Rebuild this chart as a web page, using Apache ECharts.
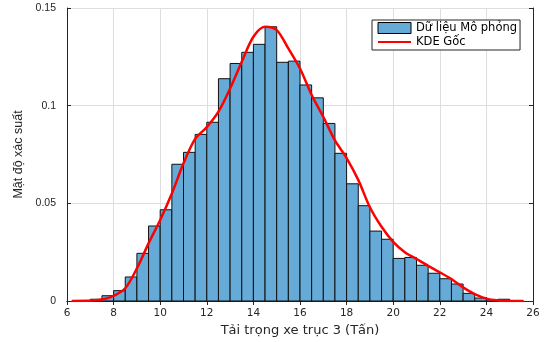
<!DOCTYPE html>
<html><head><meta charset="utf-8">
<script src="https://cdn.jsdelivr.net/npm/echarts@6/dist/echarts.min.js"></script>
<style>html,body{margin:0;padding:0;background:#fff}#c{width:550px;height:342px}</style>
</head><body><div id="c"></div>
<script>
// Histogram bins (lower/upper edges) and probability densities
var binLow  = [7,7.5,8,8.5,9,9.5,10,10.5,11,11.5,12,12.5,13,13.5,14,14.5,15,15.5,16,16.5,17,17.5,18,18.5,19,19.5,20,20.5,21,21.5,22,22.5,23,23.5,24,24.5];
var binHigh = [7.5,8,8.5,9,9.5,10,10.5,11,11.5,12,12.5,13,13.5,14,14.5,15,15.5,16,16.5,17,17.5,18,18.5,19,19.5,20,20.5,21,21.5,22,22.5,23,23.5,24,24.5,25];
var density = [0.0009,0.0027,0.0053,0.0123,0.0244,0.0384,0.0467,0.0700,0.0761,0.0853,0.0915,0.1138,0.1216,0.1273,0.1314,0.1404,0.1222,0.1228,0.1106,0.1040,0.0909,0.0756,0.0600,0.0488,0.0358,0.0316,0.0218,0.0223,0.0183,0.0142,0.0114,0.0087,0.0039,0.0015,0.0007,0.0009];
// KDE curve
var kdeX = [6.2,7.1,7.6,8.0,8.5,9.0,9.5,10.0,10.5,11.0,11.5,12.0,12.5,13.0,13.5,14.0,14.5,15.0,15.5,16.0,16.5,17.0,17.5,18.0,18.5,19.0,19.5,20.0,20.5,21.0,21.5,22.0,22.5,23.0,23.5,24.0,24.5,25.0,25.6];
var kdeY = [0,0.0002,0.001,0.0026,0.0065,0.0167,0.0295,0.0415,0.055,0.0705,0.083,0.089,0.0969,0.1088,0.1225,0.1353,0.1404,0.1387,0.1293,0.119,0.1055,0.0943,0.0822,0.0732,0.062,0.048,0.038,0.0303,0.025,0.0215,0.018,0.0147,0.0112,0.007,0.0035,0.0012,0.0003,0,0];
var xTicks = {min:6, max:26, interval:2};
var yTicks = {min:0, max:0.15, interval:0.05};
var seriesNames = ['Dữ liệu Mô phỏng','KDE Gốc'];
var xTitle = 'Tải trọng xe trục 3 (Tấn)';
var yTitle = 'Mật độ xác suất';

var histData = binLow.map(function(l,i){return [l, binHigh[i], density[i]];});
var kdeData = kdeX.map(function(x,i){return [x, kdeY[i]];});
var txt = '#262626';
var fontL = 'Liberation Sans, Arial, sans-serif';
var fontD = 'DejaVu Sans, sans-serif';
var chart = echarts.init(document.getElementById('c'));
var axisCommon = {
  axisLine:{show:true,lineStyle:{color:txt,width:1}},
  axisTick:{show:true,inside:true,length:4,lineStyle:{color:txt}}
};
chart.setOption({
  animation:false,
  textStyle:{fontFamily:fontL},
  grid:{left:67,right:17,top:8,bottom:41},
  legend:{
    orient:'vertical', left:372, top:20, padding:[2,3,2,5], itemGap:2,
    itemWidth:33, itemHeight:11, backgroundColor:'#fff',
    borderColor:txt, borderWidth:1, borderRadius:0,
    textStyle:{color:'#000',fontSize:11.5,fontFamily:fontD},
    data:[
      {name:seriesNames[0], icon:'rect', itemStyle:{color:'#66aad7',borderColor:'#000',borderWidth:1}},
      {name:seriesNames[1], itemStyle:{color:'rgba(0,0,0,0)',borderColor:'rgba(0,0,0,0)',borderWidth:0}}
    ]
  },
  xAxis:[Object.assign({
    type:'value', min:xTicks.min, max:xTicks.max, interval:xTicks.interval,
    name:xTitle, nameLocation:'middle', nameGap:18,
    nameTextStyle:{color:txt,fontSize:13,fontFamily:fontD},
    axisLabel:{color:txt,fontSize:10.5,margin:7,fontFamily:fontD},
    splitLine:{show:true,lineStyle:{color:'#dedede'}}
  },axisCommon),
  Object.assign({
    type:'value', position:'top', min:xTicks.min, max:xTicks.max, interval:xTicks.interval,
    axisLabel:{show:false}, splitLine:{show:false}
  },axisCommon)],
  yAxis:[Object.assign({
    type:'value', min:yTicks.min, max:yTicks.max, interval:yTicks.interval,
    name:yTitle, nameLocation:'middle', nameGap:42,
    nameTextStyle:{color:txt,fontSize:12.5,fontFamily:fontL},
    axisLabel:{color:txt,fontSize:10.5,margin:11,fontFamily:fontL},
    splitLine:{show:true,lineStyle:{color:'#dedede'}}
  },axisCommon),
  Object.assign({
    type:'value', position:'right', min:yTicks.min, max:yTicks.max, interval:yTicks.interval,
    axisLabel:{show:false}, splitLine:{show:false}
  },axisCommon)],
  series:[
    {
      name:seriesNames[0], type:'custom', xAxisIndex:0, yAxisIndex:0,
      itemStyle:{color:'#66aad7'},
      renderItem:function(params, api){
        var p0 = api.coord([api.value(0), api.value(2)]);
        var p1 = api.coord([api.value(1), 0]);
        return {type:'rect', shape:{x:p0[0], y:p0[1], width:p1[0]-p0[0], height:p1[1]-p0[1]},
          style:{fill:'#66aad7', stroke:'#111', lineWidth:1}};
      },
      encode:{x:[0,1], y:2},
      data:histData, z:2
    },
    {
      name:seriesNames[1], type:'line', xAxisIndex:0, yAxisIndex:0,
      data:kdeData, smooth:0.3, symbol:'none',
      lineStyle:{color:'#ff0000', width:2.5}, itemStyle:{color:'#ff0000'}, z:3
    }
  ]
});
</script></body></html>
